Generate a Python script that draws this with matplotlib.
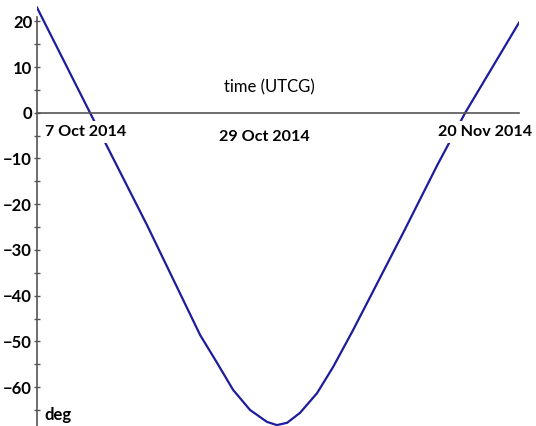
import matplotlib.pyplot as plt

# days since 7 Oct 2014 and angle (deg)
days = [0, 4.84, 10.05, 14.89, 16.44, 17.90, 19.45, 20.99, 21.9, 22.83,
        24.02, 25.57, 27.03, 28.86, 33.42, 36.53, 39.09, 44.0]
angle = [23.0, 0, -24.6, -48.6, -54.7, -60.6, -65.0, -67.6, -68.3, -67.8,
         -65.6, -61.3, -55.6, -47.5, -26.3, -11.5, 0, 19.7]

date_labels = ["7 Oct 2014", "29 Oct 2014", "20 Nov 2014"]
date_pos = [0.73, 20.8, 45.2]
date_align = ["left", "center", "right"]

yticks = [-60, -50, -40, -30, -20, -10, 0, 10, 20]

plt.rcParams['font.family'] = ['Lato', 'DejaVu Sans']

fig = plt.figure(figsize=(5.36, 4.26), dpi=100)
ax = fig.add_axes([37 / 536, 0, (519 - 37) / 536, 423 / 426])

ax.plot(days, angle, color='#1c1c9c', linewidth=1.6, zorder=2,
        solid_joinstyle='round')

ax.set_xlim(0, 44)
ax.set_ylim(-68.5, 24)

ax.spines['top'].set_visible(False)
ax.spines['right'].set_visible(False)
ax.spines['bottom'].set_position(('data', 0))
ax.spines['bottom'].set_color('#555555')
ax.spines['bottom'].set_linewidth(1.2)
ax.spines['left'].set_color('#555555')
ax.spines['left'].set_linewidth(1.2)
ax.spines['left'].set_bounds(-68.5, 21)

ax.set_xticks([])
ax.set_yticks(yticks)
ax.set_yticks([-65, -55, -45, -35, -25, -15, -5, 5, 15], minor=True)
ax.tick_params(axis='y', which='both', direction='inout', length=5, width=1,
               color='#555555', labelsize=12, pad=1)
for lab in ax.get_yticklabels():
    lab.set_fontweight('bold')

for lab, x, ha in zip(date_labels, date_pos, date_align):
    y = -5.2 if ha == "center" else -4.2
    ax.text(x, y, lab, ha=ha, va='center', fontsize=11.6, fontweight='bold',
            clip_on=False, zorder=3,
            bbox=dict(facecolor='white', edgecolor='none', pad=3))

ax.text(21.2, 5.6, "time (UTCG)", ha='center', va='center', fontsize=12)
ax.text(0.65, -66, "deg", ha='left', va='center', fontsize=12, fontweight='bold')

fig.savefig("out.png", dpi=100)
